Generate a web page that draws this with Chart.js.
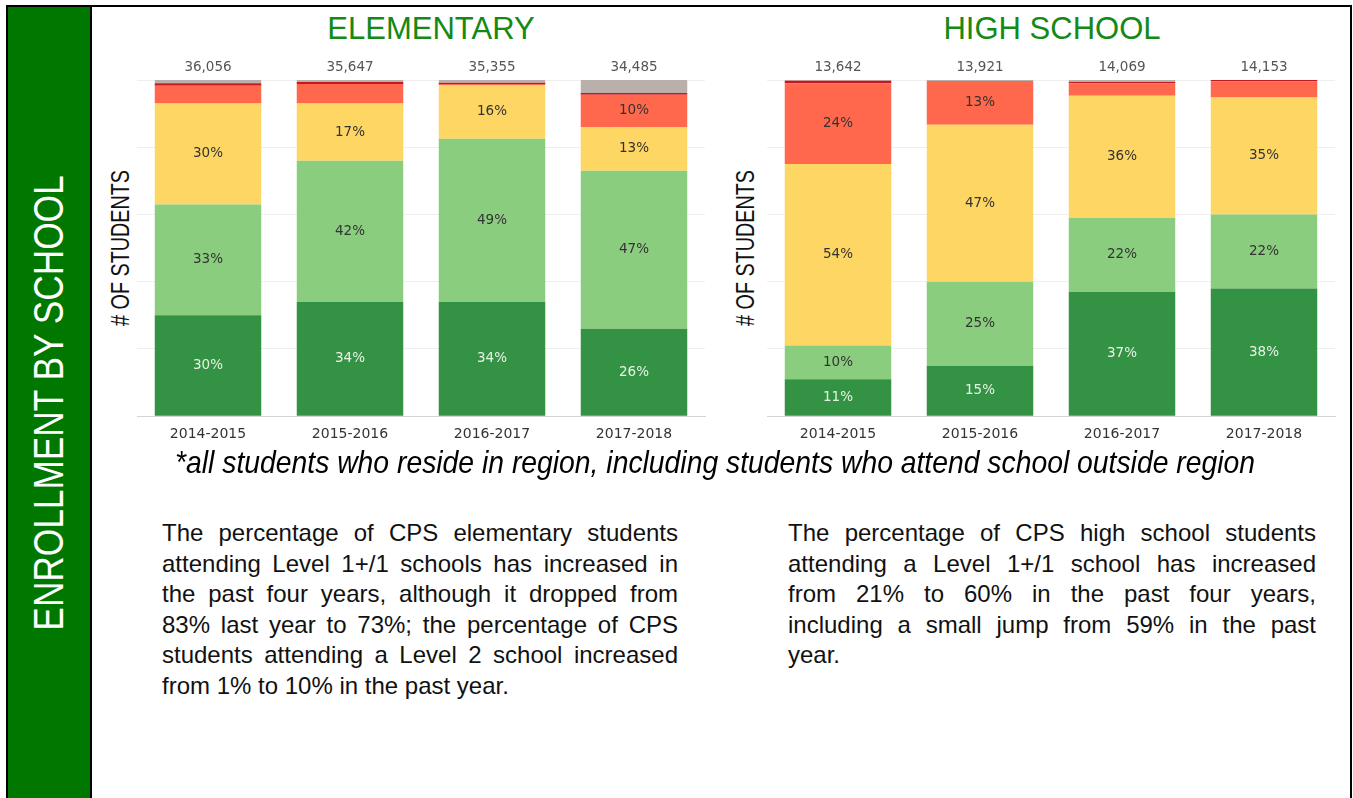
<!DOCTYPE html>
<html>
<head>
<meta charset="utf-8">
<script src="https://cdn.jsdelivr.net/npm/chart.js@4.4.1/dist/chart.umd.min.js"></script>
<style>
  body { margin: 0; width: 1353px; height: 798px; background: #fff; overflow: hidden; position: relative; font-family: "Liberation Sans", Arial, sans-serif; }
  .frame { position: absolute; left: 6px; top: 5px; width: 1346px; height: 820px; box-sizing: border-box; border: 2px solid #000; }
  .side { position: absolute; left: 8px; top: 7px; width: 82px; height: 800px; background: #007800; }
  .sideline { position: absolute; left: 90px; top: 7px; width: 2px; height: 800px; background: #000; }
  .rot { position: absolute; white-space: nowrap; font-family: "Liberation Sans", sans-serif; line-height: 1; }
  .title { position: absolute; transform: translateX(-50%); white-space: nowrap; color: #138a13; font-family: "Liberation Sans", sans-serif; font-size: 31px; top: 11px; }
  .note { position: absolute; left: 715px; top: 444px; transform: translateX(-50%) scaleX(0.885); white-space: nowrap; font-family: "Liberation Sans", sans-serif; font-style: italic; font-size: 32px; color: #000; }
  .para { position: absolute; top: 518px; font-size: 24px; line-height: 30.5px; color: #111; }
  .para div { text-align: justify; text-align-last: justify; white-space: nowrap; }
  .para div.last { text-align-last: left; }
  canvas { position: absolute; }
</style>
</head>
<body>
<div class="frame"></div>
<div class="side"></div>
<div class="sideline"></div>
<div class="rot" style="left:48px; top:403px; font-size:43px; color:#fff; transform: translate(-50%, -50%) rotate(-90deg) scaleX(0.82);">ENROLLMENT BY SCHOOL</div>

<div class="title" style="left:431px;">ELEMENTARY</div>
<div class="title" style="left:1052px;">HIGH SCHOOL</div>

<div class="rot" style="left:120px; top:248px; font-size:25px; color:#111; transform: translate(-50%, -50%) rotate(-90deg) scaleX(0.79);"># OF STUDENTS</div>
<div class="rot" style="left:745px; top:248px; font-size:25px; color:#111; transform: translate(-50%, -50%) rotate(-90deg) scaleX(0.79);"># OF STUDENTS</div>

<div style="position:absolute; left:100px; top:40px; width:620px; height:420px;"><canvas id="elemChart"></canvas></div>
<div style="position:absolute; left:730px; top:40px; width:620px; height:420px;"><canvas id="hsChart"></canvas></div>

<div class="note">*all students who reside in region, including students who attend school outside region</div>

<div class="para" style="left:162px; width:516px;">
  <div>The percentage of CPS elementary students</div>
  <div>attending Level 1+/1 schools has increased in</div>
  <div>the past four years, although it dropped from</div>
  <div>83% last year to 73%; the percentage of CPS</div>
  <div>students attending a Level 2 school increased</div>
  <div class="last">from 1% to 10% in the past year.</div>
</div>
<div class="para" style="left:788px; width:528px;">
  <div>The percentage of CPS high school students</div>
  <div>attending a Level 1+/1 school has increased</div>
  <div>from 21% to 60% in the past four years,</div>
  <div>including a small jump from 59% in the past</div>
  <div class="last">year.</div>
</div>

<script>
// school years on the x axis
const years = ["2014-2015", "2015-2016", "2016-2017", "2017-2018"];

// elementary: share of students (%) by school level, bottom to top
const elemLevel1Plus = [30, 34, 34, 26];
const elemLevel1 = [33, 42, 48.5, 47];
const elemLevel2Plus = [30, 17, 16, 13];
const elemLevel2 = [5.3, 5.8, 0.3, 9.6];
const elemLevel3 = [0.7, 0.6, 0.4, 0.5];
const elemOther = [1, 0.6, 0.8, 3.9];
const elemTotals = ["36,056", "35,647", "35,355", "34,485"];

// high school
const hsLevel1Plus = [11, 15, 37, 38];
const hsLevel1 = [10, 25, 22, 22];
const hsLevel2Plus = [54, 46.7, 36.3, 34.8];
const hsLevel2 = [24, 13, 3.7, 4.8];
const hsLevel3 = [0.8, 0, 0.4, 0.4];
const hsOther = [0.2, 0.3, 0.6, 0];
const hsTotals = ["13,642", "13,921", "14,069", "14,153"];

const levelNames = ["Level 1+", "Level 1", "Level 2+", "Level 2", "Level 3", "Other"];
const levelColors = ["#349245", "#8bcd7e", "#fed664", "#ff684c", "#c8161e", "#bab0ab"];
const labelColors = ["#e8f3e4", "#333333", "#333333", "#333333", "#333333", "#333333"];

const chartFont = "DejaVu Sans";

// draws the % inside each segment and the total above each bar
const barLabels = {
  id: "barLabels",
  afterDatasetsDraw(chart) {
    const ctx = chart.ctx;
    ctx.save();
    ctx.font = "13.5px " + chartFont;
    ctx.textAlign = "center";
    ctx.textBaseline = "middle";
    chart.data.datasets.forEach((ds, i) => {
      const meta = chart.getDatasetMeta(i);
      meta.data.forEach((bar, j) => {
        const v = ds.data[j];
        if (v < 9) return;
        ctx.fillStyle = labelColors[i];
        ctx.fillText(Math.round(v) + "%", bar.x, (bar.y + bar.base) / 2);
      });
    });
    const totals = chart.options.plugins.barLabels.totals;
    const first = chart.getDatasetMeta(0);
    ctx.fillStyle = "#555";
    first.data.forEach((bar, j) => {
      ctx.fillText(totals[j], bar.x, chart.chartArea.top - 13);
    });
    ctx.restore();
  }
};

function makeChart(id, series, totals) {
  const ctx = document.getElementById(id).getContext("2d");
  return new Chart(ctx, {
    type: "bar",
    data: {
      labels: years,
      datasets: series.map((d, i) => ({
        label: levelNames[i],
        data: d,
        backgroundColor: levelColors[i],
        borderWidth: 0,
        categoryPercentage: 1,
        barPercentage: 0.75,
      })),
    },
    options: {
      responsive: true,
      maintainAspectRatio: false,
      animation: false,
      layout: { padding: { left: 37, right: 15, top: 40, bottom: 15 } },
      plugins: {
        legend: { display: false },
        tooltip: { enabled: false },
        barLabels: { totals: totals },
      },
      scales: {
        x: {
          stacked: true,
          grid: { display: false },
          border: { display: true, color: "#d4d4d4" },
          ticks: { color: "#333", font: { family: chartFont, size: 14 }, padding: 2 },
        },
        y: {
          stacked: true,
          min: 0,
          max: 100,
          ticks: { display: false, stepSize: 20 },
          grid: { color: "#efefef", drawTicks: false },
          border: { display: false },
        },
      },
    },
    plugins: [barLabels],
  });
}

makeChart("elemChart",
  [elemLevel1Plus, elemLevel1, elemLevel2Plus, elemLevel2, elemLevel3, elemOther],
  elemTotals);
makeChart("hsChart",
  [hsLevel1Plus, hsLevel1, hsLevel2Plus, hsLevel2, hsLevel3, hsOther],
  hsTotals);
</script>
</body>
</html>
